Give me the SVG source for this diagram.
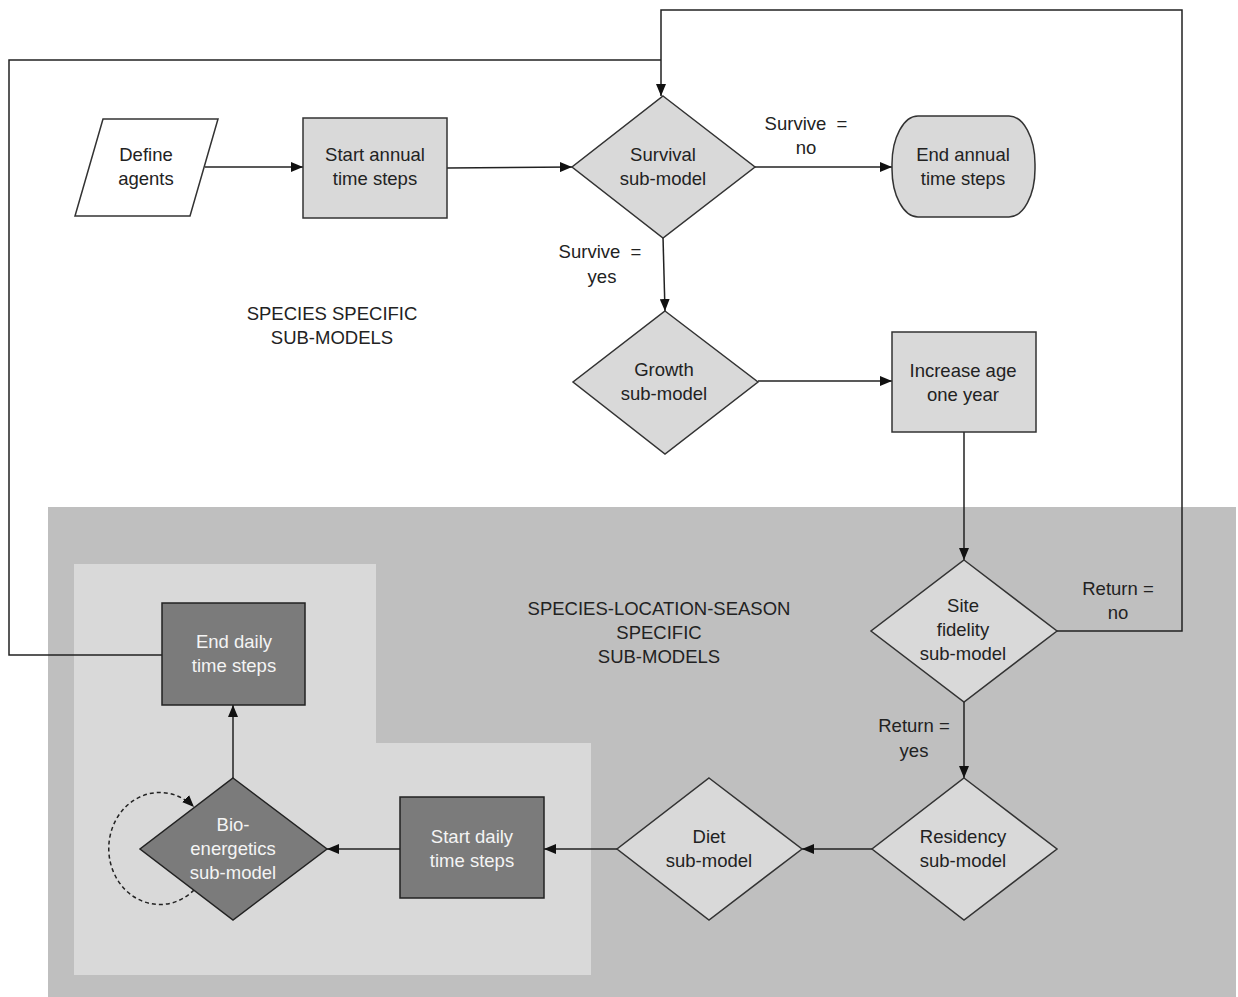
<svg xmlns="http://www.w3.org/2000/svg" width="1238" height="997" viewBox="0 0 1238 997">
<defs>
<marker id="arr" viewBox="0 0 12 10" refX="12" refY="5" markerWidth="12" markerHeight="10" markerUnits="userSpaceOnUse" orient="auto">
<path d="M0,0 L12,5 L0,10 Z" fill="#111"/>
</marker>
<style>
text{font-family:"Liberation Sans",Arial,sans-serif;font-size:18.5px;fill:#222;text-anchor:middle;white-space:pre}
.lt{fill:#d9d9d9;stroke:#333;stroke-width:1.5}
.dk{fill:#7b7b7b;stroke:#222;stroke-width:1.5}
.wt{fill:#f4f4f4}
.cn{fill:none;stroke:#222;stroke-width:1.5}
.lbl{font-size:18.5px}
</style>
</defs>
<rect width="1238" height="997" fill="#fff"/>
<g id="regions">
<rect x="48" y="507" width="1188" height="490" fill="#bfbfbf"/>
<path d="M74,564 H376 V743 H591 V975 H74 Z" fill="#d9d9d9"/>
<text x="332" y="320">SPECIES SPECIFIC</text>
<text x="332" y="344">SUB-MODELS</text>
<text x="659" y="615">SPECIES-LOCATION-SEASON</text>
<text x="659" y="639">SPECIFIC</text>
<text x="659" y="663">SUB-MODELS</text>
</g>
<g id="connectors">
<line class="cn" x1="205" y1="167" x2="303" y2="167" marker-end="url(#arr)"/>
<line class="cn" x1="447" y1="168" x2="572" y2="167" marker-end="url(#arr)"/>
<line class="cn" x1="755" y1="167" x2="892" y2="167" marker-end="url(#arr)"/>
<line class="cn" x1="663" y1="237" x2="665" y2="311" marker-end="url(#arr)"/>
<line class="cn" x1="758" y1="381" x2="892" y2="381" marker-end="url(#arr)"/>
<line class="cn" x1="964" y1="432" x2="964" y2="560" marker-end="url(#arr)"/>
<polyline class="cn" points="1057,631 1182,631 1182,10 661,10 661,96" marker-end="url(#arr)"/>
<polyline class="cn" points="162,655 9,655 9,60 661,60"/>
<line class="cn" x1="964" y1="702" x2="964" y2="778" marker-end="url(#arr)"/>
<line class="cn" x1="872" y1="849" x2="802" y2="849" marker-end="url(#arr)"/>
<line class="cn" x1="617" y1="849" x2="544" y2="849" marker-end="url(#arr)"/>
<line class="cn" x1="400" y1="849" x2="327" y2="849" marker-end="url(#arr)"/>
<line class="cn" x1="233" y1="778" x2="233" y2="705" marker-end="url(#arr)"/>
<path class="cn" d="M194,890 A51,56 0 1 1 194,807" stroke-dasharray="4,3" marker-end="url(#arr)"/>
<text x="806" y="130">Survive  =</text>
<text x="806" y="154">no</text>
<text x="600" y="258">Survive  =</text>
<text x="602" y="283">yes</text>
<text x="1118" y="595">Return =</text>
<text x="1118" y="619">no</text>
<text x="914" y="732">Return =</text>
<text x="914" y="757">yes</text>
</g>
<g id="define-agents">
<polygon class="lt" points="103,119 218,119 190,216 75,216" style="fill:#fff"/>
<text x="146" y="161">Define</text>
<text x="146" y="185">agents</text>
</g>
<g id="start-annual">
<rect class="lt" x="303" y="118" width="144" height="100"/>
<text x="375" y="161">Start annual</text>
<text x="375" y="185">time steps</text>
</g>
<g id="survival">
<polygon class="lt" points="663,96 755,167 663,238 572,167"/>
<text x="663" y="161">Survival</text>
<text x="663" y="185">sub-model</text>
</g>
<g id="end-annual">
<rect class="lt" x="892" y="116" width="143" height="101" rx="26" ry="48"/>
<text x="963" y="161">End annual</text>
<text x="963" y="185">time steps</text>
</g>
<g id="growth">
<polygon class="lt" points="665,311 758,382 665,454 573,382"/>
<text x="664" y="376">Growth</text>
<text x="664" y="400">sub-model</text>
</g>
<g id="increase-age">
<rect class="lt" x="892" y="332" width="144" height="100"/>
<text x="963" y="377">Increase age</text>
<text x="963" y="401">one year</text>
</g>
<g id="site-fidelity">
<polygon class="lt" points="964,560 1057,631 964,702 871,631"/>
<text x="963" y="612">Site</text>
<text x="963" y="636">fidelity</text>
<text x="963" y="660">sub-model</text>
</g>
<g id="residency">
<polygon class="lt" points="964,778 1057,849 964,920 872,849"/>
<text x="963" y="843">Residency</text>
<text x="963" y="867">sub-model</text>
</g>
<g id="diet">
<polygon class="lt" points="709,778 802,849 709,920 617,849"/>
<text x="709" y="843">Diet</text>
<text x="709" y="867">sub-model</text>
</g>
<g id="start-daily">
<rect class="dk" x="400" y="797" width="144" height="101"/>
<text class="wt" x="472" y="843">Start daily</text>
<text class="wt" x="472" y="867">time steps</text>
</g>
<g id="bioenergetics">
<polygon class="dk" points="233,778 327,849 233,920 140,849"/>
<text class="wt" x="233" y="831">Bio-</text>
<text class="wt" x="233" y="855">energetics</text>
<text class="wt" x="233" y="879">sub-model</text>
</g>
<g id="end-daily">
<rect class="dk" x="162" y="603" width="143" height="102"/>
<text class="wt" x="234" y="648">End daily</text>
<text class="wt" x="234" y="672">time steps</text>
</g>
</svg>
